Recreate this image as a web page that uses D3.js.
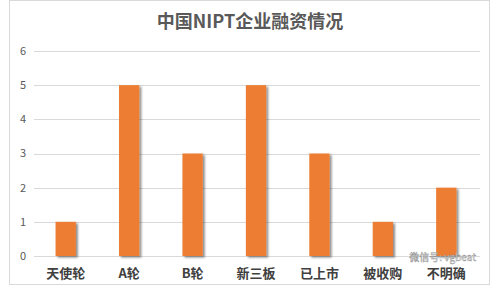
<!DOCTYPE html>
<html>
<head>
<meta charset="utf-8">
<script src="https://cdn.jsdelivr.net/npm/d3@7"></script>
<style>
  body { margin: 0; background: #fff; }
  text { font-family: "Noto Sans CJK SC", "DejaVu Sans", sans-serif; }
</style>
</head>
<body>
<div id="chart"></div>
<script>
const categories = ["天使轮", "A轮", "B轮", "新三板", "已上市", "被收购", "不明确"];
const values = [1, 5, 3, 5, 3, 1, 2];
const yTicks = [0, 1, 2, 3, 4, 5, 6];

const width = 500, height = 289;
const margin = {top: 51, right: 22, bottom: 33, left: 34};

const svg = d3.select("#chart").append("svg")
    .attr("width", width)
    .attr("height", height);

// chart frame
svg.append("rect")
    .attr("x", 9.5).attr("y", 0.5)
    .attr("width", 480).attr("height", 284)
    .attr("fill", "#fff")
    .attr("stroke", "#d9d9d9");

const defs = svg.append("defs");
const shadow = defs.append("filter").attr("id", "shadow")
    .attr("x", "-30%").attr("y", "-10%").attr("width", "170%").attr("height", "130%");
shadow.append("feDropShadow")
    .attr("dx", 2).attr("dy", 1.5).attr("stdDeviation", 1.2)
    .attr("flood-color", "#000").attr("flood-opacity", 0.45);

const x = d3.scaleBand()
    .domain(categories)
    .range([margin.left, width - margin.right])
    .paddingInner(0.68)
    .paddingOuter(0.34);

const y = d3.scaleLinear()
    .domain([0, 6])
    .range([height - margin.bottom, margin.top]);

// gridlines + y labels
const grid = svg.append("g");
grid.selectAll("line")
  .data(yTicks)
  .enter().append("line")
    .attr("x1", margin.left)
    .attr("x2", width - margin.right + 2)
    .attr("y1", d => Math.round(y(d)) + 0.5)
    .attr("y2", d => Math.round(y(d)) + 0.5)
    .attr("stroke", "#d9d9d9")
    .attr("stroke-width", 1);

grid.selectAll("text")
  .data(yTicks)
  .enter().append("text")
    .attr("x", 23)
    .attr("y", d => y(d))
    .attr("dy", "0.35em")
    .attr("text-anchor", "middle")
    .attr("fill", "#595959")
    .style("font-size", "11px")
    .text(d => d);

// bars
svg.append("g")
    .attr("filter", "url(#shadow)")
  .selectAll("rect")
  .data(values)
  .enter().append("rect")
    .attr("x", (d, i) => x(categories[i]))
    .attr("y", d => y(d))
    .attr("width", x.bandwidth())
    .attr("height", d => y(0) - y(d))
    .attr("fill", "#ED7D31");

// x labels
svg.append("g").selectAll("text")
  .data(categories)
  .enter().append("text")
    .attr("x", d => x(d) + x.bandwidth() / 2)
    .attr("y", 278)
    .attr("text-anchor", "middle")
    .attr("fill", "#404040")
    .style("font-size", "13px")
    .style("font-weight", "bold")
    .text(d => d);

// title
svg.append("text")
    .attr("x", 250)
    .attr("y", 28)
    .attr("text-anchor", "middle")
    .attr("fill", "#595959")
    .style("font-size", "18px")
    .style("font-weight", "bold")
    .text("中国NIPT企业融资情况");

// watermark
svg.append("text")
    .attr("x", 476)
    .attr("y", 261)
    .attr("text-anchor", "end")
    .attr("fill", "#fff")
    .attr("fill-opacity", 0.75)
    .attr("stroke", "#888")
    .attr("stroke-width", 0.4)
    .style("font-size", "10px")
    .text("微信号: vgbeat");
</script>
</body>
</html>
